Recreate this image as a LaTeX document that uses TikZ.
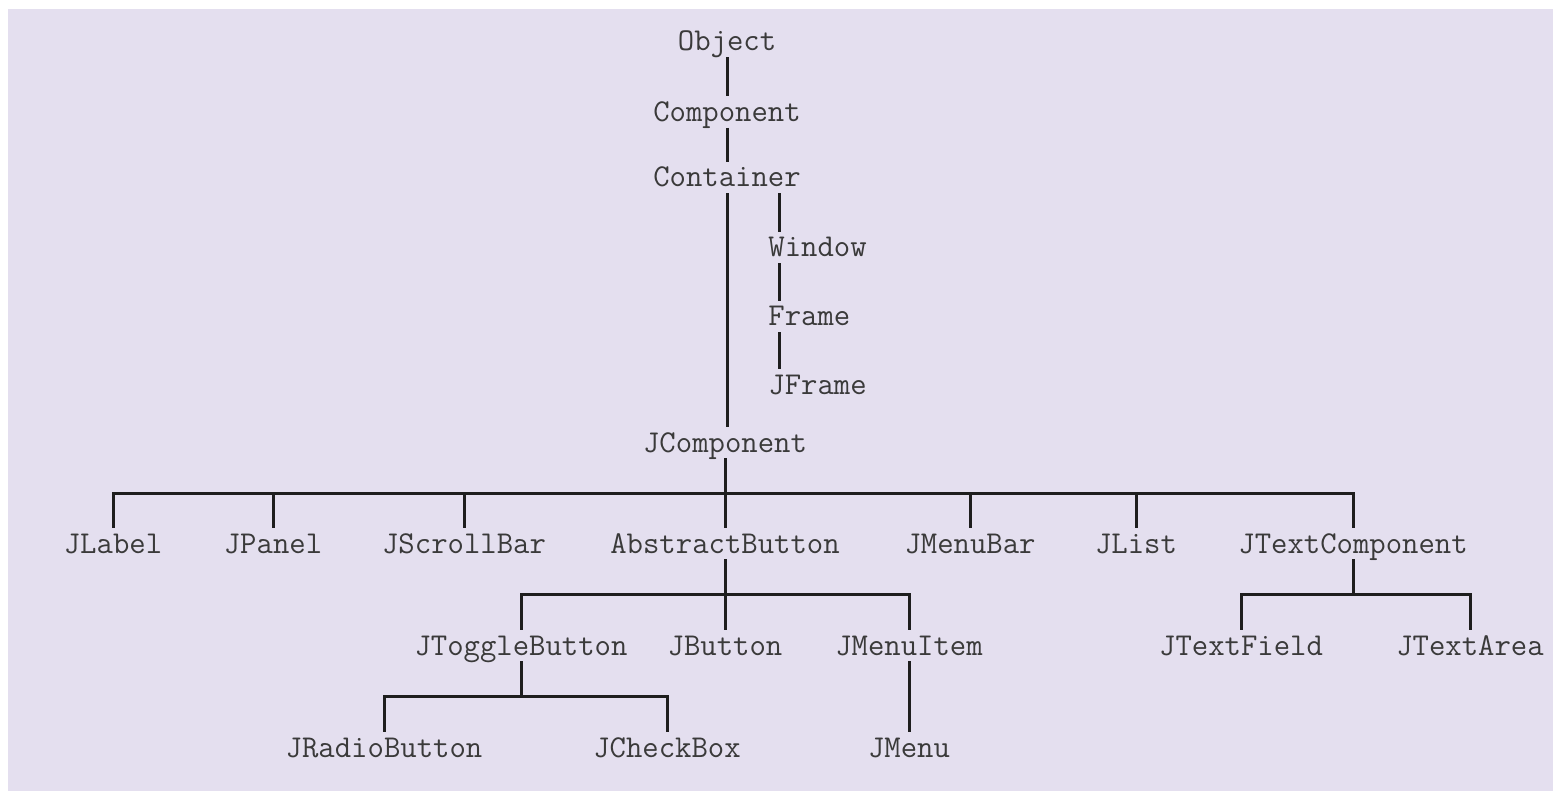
\documentclass[tikz,border=0pt]{standalone}
\usepackage{fontspec}
\usetikzlibrary{calc}
\definecolor{swingbg}{HTML}{E4DFEF}
\definecolor{swingtext}{HTML}{3A3A3A}
\definecolor{swingline}{HTML}{1E1E1E}

\begin{document}
\begin{tikzpicture}[x=0.5pt,y=-0.5pt,
    cls/.style={font=\ttfamily\fontsize{15.9}{18}\selectfont,text=swingtext,
      inner sep=0pt,text height=12.5pt,text depth=3pt,anchor=base},
    link/.style={swingline,line width=1.5pt}]
    \useasboundingbox (0,0) rectangle (1553,791);
    \fill[swingbg] (8,9) rectangle (1553,791);
    % upper chain
    \node[cls] (obj) at (727,51) {Object};
    \node[cls] (comp) at (727,121.5) {Component};
    \node[cls] (cont) at (727,187) {Container};
    \node[cls,anchor=base west] (win) at (768,257) {Window};
    \node[cls,anchor=base west] (frame) at (768,326) {Frame};
    \node[cls,anchor=base west] (jframe) at (768,394) {JFrame};
    \node[cls] (jcomp) at (725,452) {JComponent};
    % first row
    \node[cls] (jlabel) at (113,553) {JLabel};
    \node[cls] (jpanel) at (273,553) {JPanel};
    \node[cls] (jscroll) at (464,553) {JScrollBar};
    \node[cls] (abstr) at (725,553) {AbstractButton};
    \node[cls] (jmbar) at (970,553) {JMenuBar};
    \node[cls] (jlist) at (1136,553) {JList};
    \node[cls] (jtext) at (1353,553) {JTextComponent};
    % second row
    \node[cls] (jtoggle) at (521,655) {JToggleButton};
    \node[cls] (jbutton) at (725,655) {JButton};
    \node[cls] (jmitem) at (909,655) {JMenuItem};
    \node[cls] (jfield) at (1241,655) {JTextField};
    \node[cls] (jarea) at (1470,655) {JTextArea};
    % third row
    \node[cls] (jradio) at (384,757) {JRadioButton};
    \node[cls] (jcheck) at (667,757) {JCheckBox};
    \node[cls] (jmenu) at (909,757) {JMenu};

    \draw[link] (obj.south) -- (comp.north);
    \draw[link] (comp.south) -- (cont.north);
    \draw[link] (cont.south) -- (cont.south |- jcomp.north);
    \coordinate (wcol) at (779,0);
    \draw[link] (wcol |- cont.south) -- (wcol |- win.north);
    \draw[link] (wcol |- win.south) -- (wcol |- frame.north);
    \draw[link] (wcol |- frame.south) -- (wcol |- jframe.north);

    % forks
    \draw[link] (jcomp.south) -- ($(jcomp.south)!.5!(jcomp.south |- jlabel.north)$) coordinate (b1);
    \draw[link] (jlabel.north) |- (b1) -| (jtext.north);
    \foreach \n in {jpanel,jscroll,abstr,jmbar,jlist}
      \draw[link] (\n.north) -- (\n.north |- b1);

    \draw[link] (abstr.south) -- ($(abstr.south)!.5!(abstr.south |- jbutton.north)$) coordinate (b2);
    \draw[link] (jtoggle.north) |- (b2) -| (jmitem.north);
    \draw[link] (jbutton.north) -- (jbutton.north |- b2);

    \draw[link] (jtoggle.south) -- ($(jtoggle.south)!.5!(jtoggle.south |- jradio.north)$) coordinate (b3);
    \draw[link] (jradio.north) |- (b3) -| (jcheck.north);
    \draw[link] (jmitem.south) -- (jmenu.north);

    \draw[link] (jtext.south) -- ($(jtext.south)!.5!(jtext.south |- jfield.north)$) coordinate (b4);
    \draw[link] (jfield.north) |- (b4) -| (jarea.north);
\end{tikzpicture}
\end{document}
